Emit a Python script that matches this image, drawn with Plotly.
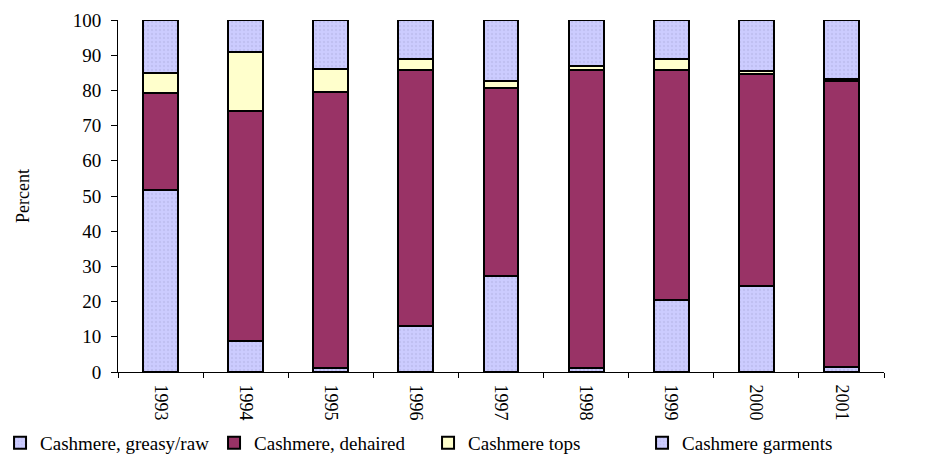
import plotly.graph_objects as go

years = ["1993", "1994", "1995", "1996", "1997", "1998", "1999", "2000", "2001"]
greasy_raw = [51.7, 8.8, 1.0, 13.0, 27.3, 1.0, 20.5, 24.4, 1.5]
dehaired = [27.6, 65.3, 78.5, 72.8, 53.4, 84.8, 65.3, 60.4, 81.3]
tops = [5.7, 16.9, 6.6, 3.2, 2.0, 1.2, 3.2, 0.8, 0.3]
garments = [15.0, 9.0, 13.9, 11.0, 17.3, 13.0, 11.0, 14.4, 16.9]

font_family = "Liberation Serif, Times New Roman, serif"
outline = dict(color="black", width=2)
dots = dict(shape=".", fgcolor="#B4B4E4", size=4, solidity=0.3)

fig = go.Figure()
fig.add_trace(go.Bar(
    name="Cashmere, greasy/raw", x=years, y=greasy_raw,
    marker=dict(color="#CCCCFF", line=outline, pattern=dots),
))
fig.add_trace(go.Bar(
    name="Cashmere, dehaired", x=years, y=dehaired,
    marker=dict(color="#993366", line=outline),
))
fig.add_trace(go.Bar(
    name="Cashmere tops", x=years, y=tops,
    marker=dict(color="#FFFFCC", line=outline),
))
fig.add_trace(go.Bar(
    name="Cashmere garments", x=years, y=garments,
    marker=dict(color="#CCCCFF", line=outline, pattern=dots),
))

fig.update_layout(
    barmode="stack",
    bargap=0.59,
    width=947, height=459,
    margin=dict(l=118, r=63, t=20, b=87, autoexpand=False),
    paper_bgcolor="white", plot_bgcolor="white",
    font=dict(family=font_family, size=18, color="black"),
    showlegend=True,
    legend=dict(orientation="h", x=-0.154, xanchor="left",
                y=-0.2017, yanchor="middle",
                bgcolor="rgba(0,0,0,0)",
                font=dict(family=font_family, size=19), traceorder="normal",
                itemwidth=30, entrywidth=169, entrywidthmode="pixels"),
)
fig.update_xaxes(
    type="category", tickangle=90, showline=True, linecolor="black", linewidth=1,
    ticks="outside", tickson="boundaries", ticklen=5, tickcolor="black",
    tickfont=dict(family=font_family, size=18), ticklabelstandoff=8,
)
fig.update_yaxes(
    range=[0, 100], dtick=10, showgrid=False, zeroline=False,
    showline=True, linecolor="black", linewidth=1,
    ticks="outside", ticklen=6, tickcolor="black",
    tickfont=dict(family=font_family, size=19), ticklabelstandoff=6,
    title=dict(text="Percent", font=dict(family=font_family, size=18), standoff=38),
)

fig.write_html("out.html")
